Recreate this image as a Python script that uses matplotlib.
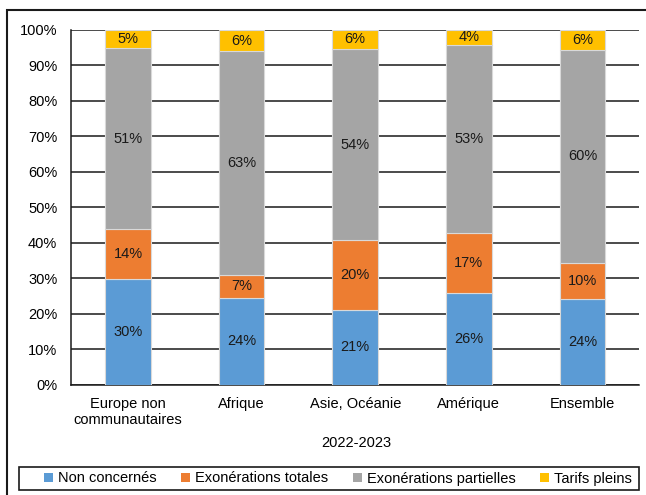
import matplotlib
matplotlib.use("Agg")
import matplotlib.pyplot as plt
from matplotlib.patches import Rectangle
import numpy as np

plt.rcParams['font.family'] = ['Liberation Sans', 'DejaVu Sans']

categories = ["Europe non\ncommunautaires", "Afrique", "Asie, Océanie", "Amérique", "Ensemble"]
non_concernes = [29.7, 24.4, 21.1, 25.8, 24.1]
exo_totales = [14.1, 6.6, 19.7, 17.0, 10.2]
exo_partielles = [51.0, 63.0, 53.7, 53.0, 60.0]
tarifs_pleins = [5.2, 5.9, 5.5, 4.2, 5.7]
series_names = ["Non concernés", "Exonérations totales", "Exonérations partielles", "Tarifs pleins"]
colors = ["#5B9BD5", "#ED7D31", "#A5A5A5", "#FFC000"]
xlabel = "2022-2023"

W, H = 646, 495
fig = plt.figure(figsize=(W / 100, H / 100), dpi=100)
ax = fig.add_axes([71.2 / W, 1 - 384.7 / H, (639.2 - 71.2) / W, (384.7 - 29.7) / H])

x = np.arange(len(categories))
bottom = np.zeros(len(categories))
fs = 10.5
for name, vals, col in zip(series_names, [non_concernes, exo_totales, exo_partielles, tarifs_pleins], colors):
    vals = np.array(vals)
    ax.bar(x, vals, 0.4, bottom=bottom, color=col, edgecolor="#d9d9d9", linewidth=0.8,
           label=name, zorder=3)
    for xi, b, v in zip(x, bottom, vals):
        ax.text(xi, b + v / 2, f"{round(v):d}%", ha="center", va="center", fontsize=fs,
                color="#1a1a1a", zorder=4)
    bottom = bottom + vals

ax.set_xlim(-0.5, len(categories) - 0.5)
ax.set_ylim(0, 100)
ax.set_yticks(np.arange(0, 101, 10))
ax.set_yticklabels([f"{v}%" for v in range(0, 101, 10)], fontsize=fs)
ax.set_xticks(x)
ax.set_xticklabels(categories, fontsize=fs)
ax.tick_params(axis="both", length=0)
ax.tick_params(axis="y", pad=10)
ax.tick_params(axis="x", pad=9)
ax.yaxis.grid(True, color="#1a1a1a", linewidth=1.1, zorder=0)
ax.set_axisbelow(True)
for s in ["top", "right"]:
    ax.spines[s].set_visible(False)
for s in ["left", "bottom"]:
    ax.spines[s].set_color("#1a1a1a")
    ax.spines[s].set_linewidth(1.1)

fig.text(356 / W, 1 - 443 / H, xlabel, ha="center", va="center", fontsize=fs)

# legend box
fig.patches.append(Rectangle((19 / W, 1 - 490 / H), 620 / W, 23 / H, transform=fig.transFigure,
                             fill=False, edgecolor="#1a1a1a", linewidth=1.2))
leg = fig.legend(loc="center", bbox_to_anchor=(338 / W, 1 - 478.5 / H),
                 ncol=4, fontsize=fs, frameon=False,
                 handlelength=0.6, handleheight=0.6, handletextpad=0.35, borderaxespad=0,
                 borderpad=0.0, columnspacing=1.7)
for h in leg.legend_handles:
    h.set_edgecolor("none")

fig.patches.append(Rectangle((7 / W, -0.05), 1.1, 1 - 10 / H + 0.05, transform=fig.transFigure,
                             fill=False, edgecolor="#1a1a1a", linewidth=1.5, clip_on=False))

fig.savefig("out.png", dpi=100)
